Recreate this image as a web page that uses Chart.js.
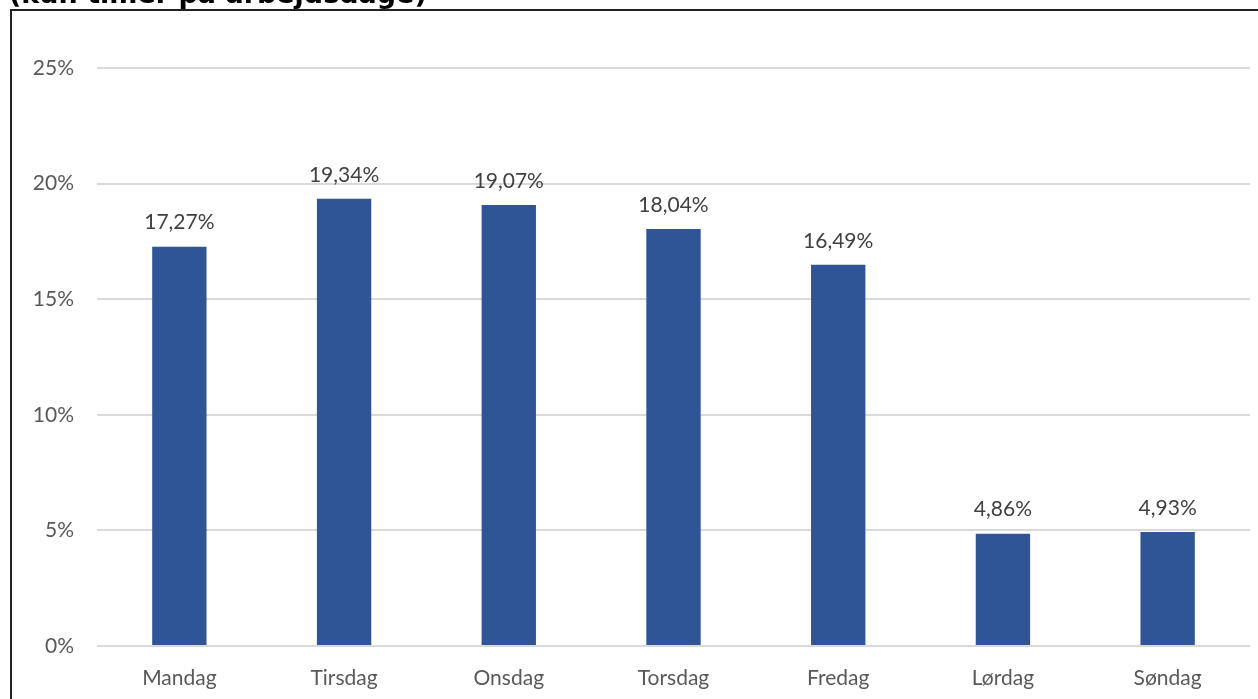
<!DOCTYPE html>
<html>
<head>
<meta charset="utf-8">
<script src="https://cdn.jsdelivr.net/npm/chart.js@4"></script>
<style>
  html, body { margin: 0; padding: 0; background: #fff; overflow: hidden; }
  body { width: 1258px; height: 699px; position: relative; }
  #title {
    position: absolute; left: 9px; top: -22px; z-index: 2;
    font-family: "DejaVu Sans", sans-serif; font-weight: bold; font-size: 27px;
    line-height: 32px; color: #000; white-space: nowrap;
  }
  #frame {
    position: absolute; left: 10px; top: 9px; width: 1248px; height: 690px;
    border-left: 2px solid #222; border-top: 2px solid #222; box-sizing: border-box;
  }
  #wrap { position: absolute; left: 0; top: 0; width: 1258px; height: 699px; }
</style>
</head>
<body>
<div id="title">(kun timer på arbejdsdage)</div>
<div id="frame"></div>
<div id="wrap"><canvas id="dayChart"></canvas></div>
<script>
// data
const days = ['Mandag', 'Tirsdag', 'Onsdag', 'Torsdag', 'Fredag', 'Lørdag', 'Søndag'];
const shares = [17.27, 19.34, 19.07, 18.04, 16.49, 4.86, 4.93];
const yTicks = [0, 5, 10, 15, 20, 25];

const fontFamily = 'Lato, "Open Sans", sans-serif';

// comma as decimal separator, like the original
function pct(v, digits) {
  return v.toFixed(digits).replace('.', ',') + '%';
}

// draw value labels above each bar
const valueLabels = {
  id: 'valueLabels',
  afterDatasetsDraw(chart) {
    const ctx = chart.ctx;
    const meta = chart.getDatasetMeta(0);
    ctx.save();
    ctx.font = '21px ' + fontFamily;
    ctx.fillStyle = '#404040';
    ctx.textAlign = 'center';
    ctx.textBaseline = 'middle';
    meta.data.forEach((bar, i) => {
      ctx.fillText(pct(shares[i], 2), bar.x, bar.y - 24);
    });
    ctx.restore();
  }
};

const ctx = document.getElementById('dayChart').getContext('2d');
new Chart(ctx, {
  type: 'bar',
  data: {
    labels: days,
    datasets: [{
      data: shares,
      backgroundColor: '#2F5597',
      categoryPercentage: 1,
      barPercentage: 0.33
    }]
  },
  options: {
    responsive: true,
    maintainAspectRatio: false,
    animation: false,
    layout: { padding: { top: 68, right: 8, left: 0, bottom: 0 } },
    plugins: {
      legend: { display: false },
      tooltip: { enabled: false }
    },
    scales: {
      x: {
        grid: { display: false },
        border: { display: false },
        ticks: { color: '#595959', font: { family: fontFamily, size: 21 }, padding: 12 },
        afterFit(scale) { scale.height = 53; }
      },
      y: {
        min: 0,
        max: 25,
        afterBuildTicks(scale) { scale.ticks = yTicks.map(v => ({ value: v })); },
        grid: { color: '#d9d9d9', lineWidth: 2, drawTicks: false },
        border: { display: false },
        ticks: {
          color: '#595959',
          font: { family: fontFamily, size: 21 },
          padding: 23,
          callback: v => v + '%'
        },
        afterFit(scale) { scale.width = 97; }
      }
    }
  },
  plugins: [valueLabels]
});
</script>
</body>
</html>
